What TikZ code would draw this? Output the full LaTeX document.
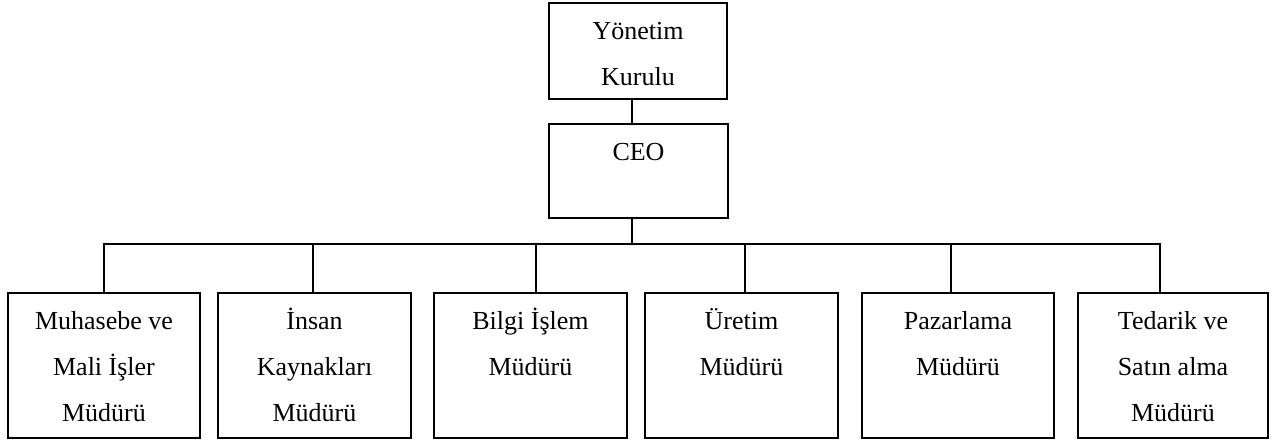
\documentclass[tikz,border=0pt]{standalone}
\usepackage{fontspec}
\setmainfont{Liberation Serif}
\begin{document}
\begin{tikzpicture}[x=1pt,y=-1pt,
  line width=1.7pt,
  box/.style={draw, rectangle, inner sep=0pt, outer sep=0pt, minimum height=#1},
  box/.default=145pt,
  lbl/.style={anchor=north, inner sep=0pt, outer sep=0pt, align=center,
              font=\fontsize{26pt}{46pt}\selectfont},
  wire/.style={draw, line cap=rect}]
  \useasboundingbox (0,0) rectangle (1276,440);

  % board and chief executive
  \node[box=96pt,  minimum width=178pt] (board) at (638,51)    {};
  \node[box=94pt,  minimum width=179pt] (ceo)   at (638.5,171) {};
  \node[lbl] at (board.north) {\rule{0pt}{36pt}Yönetim\\Kurulu};
  \node[lbl] at (ceo.north)   {\rule{0pt}{36pt}CEO};

  % department managers
  \node[box, minimum width=192pt] (m1) at (104,365.5)   {};
  \node[box, minimum width=193pt] (m2) at (314.5,365.5) {};
  \node[box, minimum width=193pt] (m3) at (530.5,365.5) {};
  \node[box, minimum width=193pt] (m4) at (741.5,365.5) {};
  \node[box, minimum width=192pt] (m5) at (958,365.5)   {};
  \node[box, minimum width=190pt] (m6) at (1173,365.5)  {};

  \node[lbl] at (m1.north) {\rule{0pt}{36pt}Muhasebe ve\\Mali İşler\\Müdürü};
  \node[lbl] at (m2.north) {\rule{0pt}{36pt}İnsan\\Kaynakları\\Müdürü};
  \node[lbl] at (m3.north) {\rule{0pt}{36pt}Bilgi İşlem\\Müdürü};
  \node[lbl] at (m4.north) {\rule{0pt}{36pt}Üretim\\Müdürü};
  \node[lbl] at (m5.north) {\rule{0pt}{36pt}Pazarlama\\Müdürü};
  \node[lbl] at (m6.north) {\rule{0pt}{36pt}Tedarik ve\\Satın alma\\Müdürü};

  % bus taps
  \coordinate (bus) at (632,244);
  \coordinate (t1) at (104,244);
  \coordinate (t2) at (313,244);
  \coordinate (t3) at (536,244);
  \coordinate (t4) at (745,244);
  \coordinate (t5) at (951,244);
  \coordinate (t6) at (1160,244);

  % connectors
  \draw (bus |- board.south) -- (bus |- ceo.north);
  \draw (bus |- ceo.south) -- (bus);
  \draw[line join=miter] (t1 |- m1.north) -- (t1) -- (t6) -- (t6 |- m6.north);
  \draw (t2) -- (t2 |- m2.north);
  \draw (t3) -- (t3 |- m3.north);
  \draw (t4) -- (t4 |- m4.north);
  \draw (t5) -- (t5 |- m5.north);
\end{tikzpicture}
\end{document}
